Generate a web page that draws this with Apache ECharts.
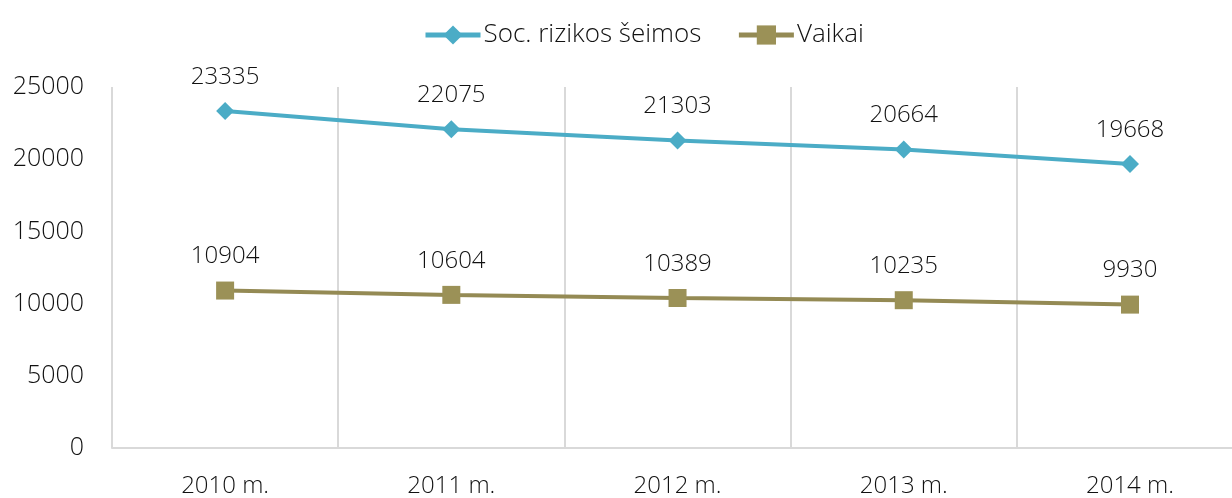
<!DOCTYPE html>
<html>
<head>
<meta charset="utf-8">
<script src="https://cdn.jsdelivr.net/npm/echarts@6/dist/echarts.min.js"></script>
<style>
  html, body { margin: 0; padding: 0; background: #fff; }
  #chart { width: 1232px; height: 498px; }
</style>
</head>
<body>
<div id="chart"></div>
<script>
// kategorijos ir reikšmės
var years = ['2010 m.', '2011 m.', '2012 m.', '2013 m.', '2014 m.'];
var seimos = [23335, 22075, 21303, 20664, 19668];
var vaikai = [10904, 10604, 10389, 10235, 9930];
var seriesNames = ['Soc. rizikos šeimos', 'Vaikai'];

var font = '"Open Sans", "Noto Sans", sans-serif';
var txt = { fontFamily: font, fontWeight: 300, fontSize: 24, color: '#111' };

// paskutinė kategorija nukirpta dešiniame krašte
var xMax = 4.451;

function pairs(arr) {
  return arr.map(function(v, i) { return [i, v]; });
}

var option = {
  animation: false,
  legend: {
    data: seriesNames,
    top: 17,
    left: 418,
    itemWidth: 55,
    itemHeight: 24,
    itemGap: 35,
    lineStyle: { width: 5 },
    textStyle: { fontFamily: font, fontWeight: 300, fontSize: 26, color: '#111', padding: [0, 0, 0, -2] }
  },
  grid: {
    left: 112,
    right: 0,
    top: 87,
    bottom: 48
  },
  xAxis: [{
    type: 'value',
    min: -0.5,
    max: xMax,
    interval: 0.5,
    axisLine: { lineStyle: { color: '#d9d9d9', width: 2 } },
    axisTick: { show: false },
    splitLine: { show: false },
    axisLabel: {
      fontFamily: font, fontWeight: 300, fontSize: 24, color: '#111', margin: 26,
      showMinLabel: true, showMaxLabel: false,
      formatter: function(v) { return Number.isInteger(v) ? (years[v] || '') : ''; }
    }
  }, {
    type: 'value',
    position: 'bottom',
    min: -0.5,
    max: xMax,
    interval: 1,
    axisLine: { show: false },
    axisTick: { show: false },
    axisLabel: { show: false },
    splitLine: { show: true, showMaxLine: false, lineStyle: { color: '#d9d9d9', width: 2 } }
  }],
  yAxis: [{
    type: 'value',
    min: 0,
    max: 25000,
    interval: 5000,
    axisLine: { show: false },
    axisTick: { show: false },
    splitLine: { show: false },
    axisLabel: {
      fontFamily: font, fontWeight: 300, fontSize: 25, color: '#111', margin: 28,
      formatter: function(v) { return String(v); }
    }
  }],
  series: [{
    name: seriesNames[0],
    type: 'line',
    data: pairs(seimos),
    symbol: 'diamond',
    symbolSize: 18,
    itemStyle: { color: '#4bacc6' },
    lineStyle: { color: '#4bacc6', width: 4 },
    label: Object.assign({ show: true, position: 'top', distance: 13,
      formatter: function(p) { return p.value[1]; } }, txt)
  }, {
    name: seriesNames[1],
    type: 'line',
    data: pairs(vaikai),
    symbol: 'rect',
    symbolSize: 18,
    itemStyle: { color: '#9b9157' },
    lineStyle: { color: '#948a54', width: 4 },
    label: Object.assign({ show: true, position: 'top', distance: 13,
      formatter: function(p) { return p.value[1]; } }, txt)
  }]
};

var myChart = echarts.init(document.getElementById('chart'));
myChart.setOption(option);
</script>
</body>
</html>
